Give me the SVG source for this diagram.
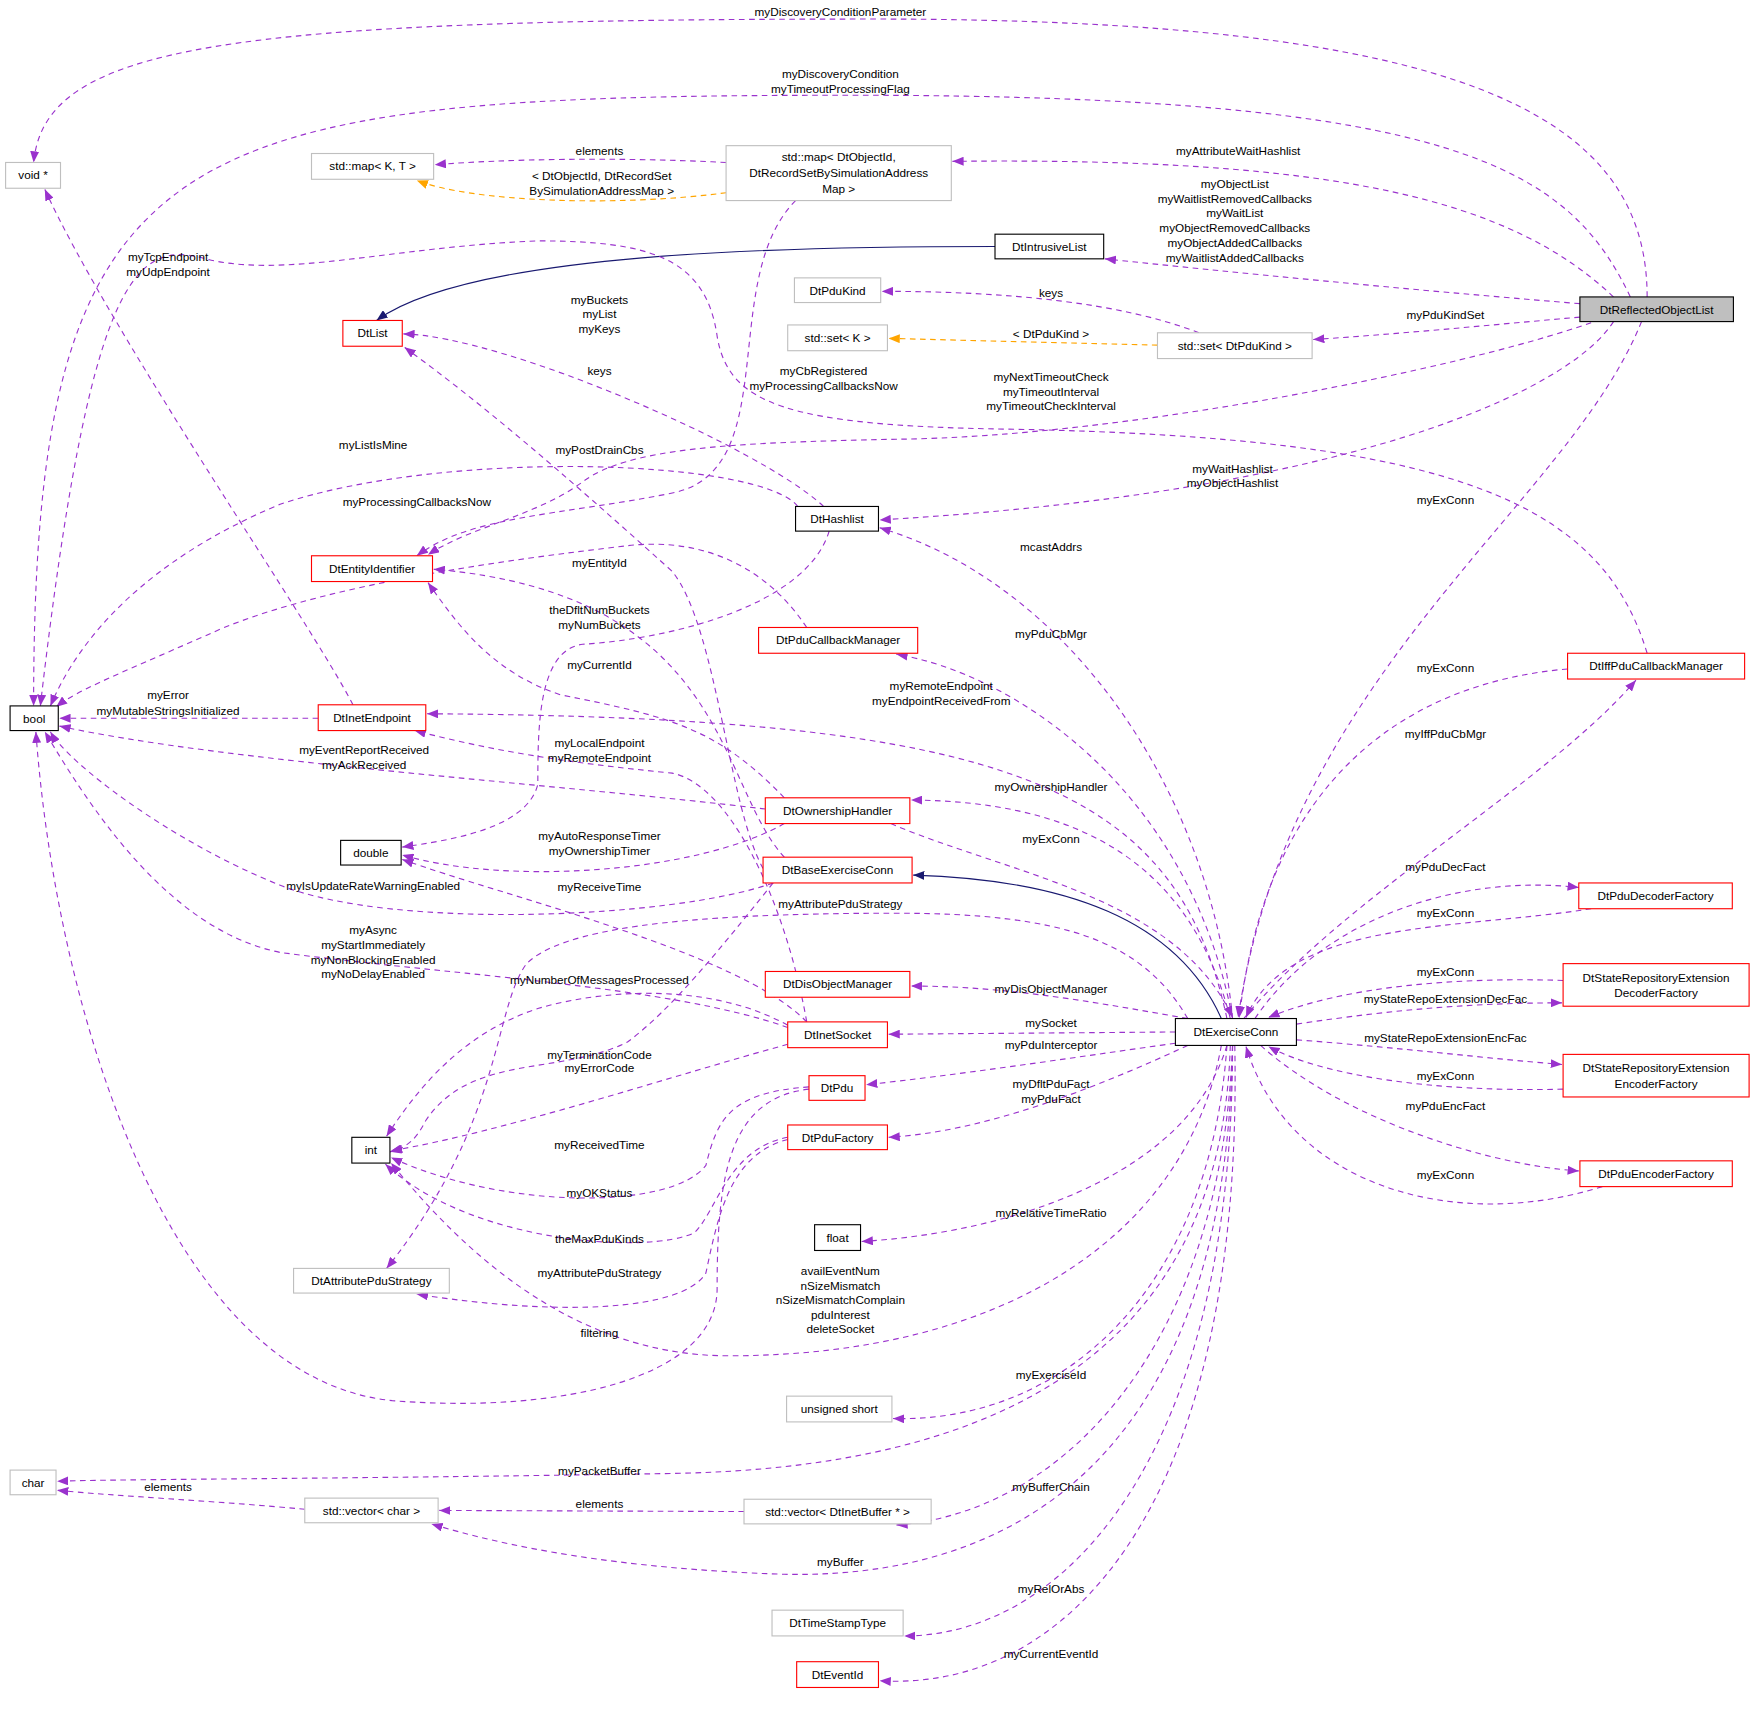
<svg xmlns="http://www.w3.org/2000/svg" width="1757" height="1709" viewBox="0 0 1757 1709">
<style>
text{font-family:"Liberation Sans",Arial,sans-serif;font-size:10.5px;fill:#000;text-anchor:middle}
.n rect{fill:#fff;stroke-width:1}
.g rect{stroke:#bfbfbf}.r rect{stroke:#ff0000}.b rect{stroke:#000}
.e path{fill:none;stroke:#9a32cd;stroke-dasharray:5,4;stroke-width:1}
.e path.o{stroke:#ffa500}
.e path.i{stroke:#191970;stroke-dasharray:none}
</style>
<defs>
<marker id="p" markerWidth="10" markerHeight="8" refX="10" refY="4" orient="auto" markerUnits="userSpaceOnUse"><path d="M0,0L10,4L0,8z" fill="#9a32cd"/></marker>
<marker id="o" markerWidth="10" markerHeight="8" refX="10" refY="4" orient="auto" markerUnits="userSpaceOnUse"><path d="M0,0L10,4L0,8z" fill="#ffa500"/></marker>
<marker id="i" markerWidth="10" markerHeight="8" refX="10" refY="4" orient="auto" markerUnits="userSpaceOnUse"><path d="M0,0L10,4L0,8z" fill="#191970"/></marker>
</defs>
<rect width="1757" height="1709" fill="#fff"/>
<g transform="scale(1.1205)">
<g id="connectors" class="e">
<path marker-end="url(#p)" d="M1470,265C1470,100 1300,17 780,17C200,17 40,40 30,145"/>
<path marker-end="url(#p)" d="M1455,265C1400,150 1300,85 760,85C150,85 30,120 30,630"/>
<path marker-end="url(#p)" d="M1440,265C1350,180 1200,140 850,144"/>
<path marker-end="url(#p)" d="M1410,271C1250,258 1100,243 986,231"/>
<path marker-end="url(#p)" d="M1410,283C1330,290 1250,298 1172,303"/>
<path marker-end="url(#p)" d="M1440,287C1400,350 1200,440 785,464"/>
<path marker-end="url(#p)" d="M1465,287C1400,450 1150,600 1105,908"/>
<path marker-end="url(#p)" d="M1420,288C1300,330 1000,390 800,392C650,395 560,400 520,430C480,460 420,470 382,495"/>
<path marker-end="url(#p)" d="M648,145C550,140 450,142 388,147"/>
<path class="o" marker-end="url(#o)" d="M648,172C550,185 420,180 372,161"/>
<path marker-end="url(#p)" d="M710,179C640,250 700,420 600,440C500,460 420,460 372,496"/>
<path class="i" marker-end="url(#i)" d="M888,220C700,220 420,225 336,286"/>
<path marker-end="url(#p)" d="M1070,297C1000,270 900,260 787,260"/>
<path class="o" marker-end="url(#o)" d="M1033,308L793,302"/>
<path marker-end="url(#p)" d="M712,452C680,410 400,400 250,450C130,500 70,570 45,630"/>
<path marker-end="url(#p)" d="M735,452C680,400 450,300 360,298"/>
<path marker-end="url(#p)" d="M740,474C720,540 600,570 520,575C480,580 480,650 480,700C470,740 400,750 359,756"/>
<path marker-end="url(#p)" d="M1470,583C1430,450 1300,390 900,383C700,380 650,360 640,300C630,230 580,215 480,215C350,220 250,250 180,230C120,215 80,250 36,630"/>
<path marker-end="url(#p)" d="M720,560C680,500 620,480 560,487C450,500 300,520 200,560C110,600 70,615 50,631"/>
<path marker-end="url(#p)" d="M315,629C280,560 100,300 40,169"/>
<path marker-end="url(#p)" d="M284,641L53,641"/>
<path marker-end="url(#p)" d="M683,722C500,700 200,680 53,648"/>
<path marker-end="url(#p)" d="M700,735C620,780 450,790 359,763"/>
<path marker-end="url(#p)" d="M700,712C640,650 600,640 500,620C440,600 410,560 382,520"/>
<path marker-end="url(#p)" d="M681,775C650,720 640,560 600,510C500,420 430,360 361,310"/>
<path marker-end="url(#p)" d="M700,765C640,700 650,530 387,508"/>
<path marker-end="url(#p)" d="M690,788C600,820 350,830 250,790C150,750 60,680 45,653"/>
<path marker-end="url(#p)" d="M720,912C660,850 450,800 359,767"/>
<path marker-end="url(#p)" d="M720,912C700,800 650,700 600,690C500,680 440,670 370,652"/>
<path marker-end="url(#p)" d="M703,917C600,880 400,870 250,850C150,830 80,720 40,653"/>
<path marker-end="url(#p)" d="M703,915C640,880 550,880 480,900C420,920 380,960 345,1014"/>
<path marker-end="url(#p)" d="M703,932C600,960 450,1010 349,1027"/>
<path marker-end="url(#p)" d="M690,788C640,850 600,900 560,930C500,960 420,940 380,1000C370,1020 360,1025 348,1028"/>
<path marker-end="url(#p)" d="M722,970C650,975 640,1000 630,1040C600,1080 450,1080 349,1033"/>
<path marker-end="url(#p)" d="M703,1015C650,1025 640,1080 620,1100C580,1120 420,1110 344,1039"/>
<path marker-end="url(#p)" d="M703,1017C650,1030 640,1090 630,1136C610,1170 500,1175 372,1155"/>
<path marker-end="url(#p)" d="M722,972C650,980 640,1050 640,1150C640,1230 500,1262 350,1250C150,1230 50,900 32,653"/>
<path marker-end="url(#p)" d="M1060,909C1020,840 950,815 800,815C600,815 500,830 470,860C440,900 450,1000 345,1132"/>
<path marker-end="url(#p)" d="M1100,909C1080,700 950,520 785,471"/>
<path marker-end="url(#p)" d="M1100,909C1060,700 900,600 800,584"/>
<path marker-end="url(#p)" d="M1095,909C1050,700 900,640 381,637"/>
<path marker-end="url(#p)" d="M1110,909C1200,800 1380,700 1460,607"/>
<path marker-end="url(#p)" d="M1399,597C1250,610 1130,700 1106,908"/>
<path marker-end="url(#p)" d="M1098,909C1060,760 950,715 813,714"/>
<path marker-end="url(#p)" d="M795,735C900,780 1050,800 1100,908"/>
<path class="i" marker-end="url(#i)" d="M1090,909C1050,820 950,785 815,781"/>
<path marker-end="url(#p)" d="M1120,909C1180,820 1300,780 1409,792"/>
<path marker-end="url(#p)" d="M1420,811C1300,830 1150,820 1112,908"/>
<path marker-end="url(#p)" d="M1395,875C1300,872 1200,880 1132,908"/>
<path marker-end="url(#p)" d="M1157,914C1250,900 1320,895 1394,895"/>
<path marker-end="url(#p)" d="M1157,928C1250,935 1330,945 1394,950"/>
<path marker-end="url(#p)" d="M1395,972C1280,975 1180,960 1132,934"/>
<path marker-end="url(#p)" d="M1125,933C1200,1000 1330,1040 1409,1045"/>
<path marker-end="url(#p)" d="M1430,1059C1300,1100 1150,1060 1112,934"/>
<path marker-end="url(#p)" d="M1060,909C980,895 900,880 813,880"/>
<path marker-end="url(#p)" d="M1049,921L793,923"/>
<path marker-end="url(#p)" d="M1049,931C950,945 850,960 773,968"/>
<path marker-end="url(#p)" d="M1060,933C980,970 880,1010 793,1015"/>
<path marker-end="url(#p)" d="M1095,933C1060,1050 900,1100 769,1108"/>
<path marker-end="url(#p)" d="M1090,933C1060,1100 900,1210 650,1210C500,1210 400,1100 349,1038"/>
<path marker-end="url(#p)" d="M1095,933C1080,1150 950,1270 797,1266"/>
<path marker-end="url(#p)" d="M1098,933C1090,1200 900,1310 600,1315C300,1320 100,1320 51,1322"/>
<path marker-end="url(#p)" d="M1100,933C1090,1200 950,1350 800,1361"/>
<path marker-end="url(#p)" d="M1100,933C1095,1250 950,1410 700,1405C550,1400 450,1380 385,1360"/>
<path marker-end="url(#p)" d="M1100,933C1100,1300 950,1460 807,1460"/>
<path marker-end="url(#p)" d="M1102,933C1110,1350 950,1510 785,1500"/>
<path marker-end="url(#p)" d="M664,1349L392,1348"/>
<path marker-end="url(#p)" d="M272,1347C200,1340 100,1335 51,1330"/>
</g>
<g id="labels">
<text x="750" y="14">myDiscoveryConditionParameter</text>
<text x="750" y="70">myDiscoveryCondition</text><text x="750" y="83">myTimeoutProcessingFlag</text>
<text x="535" y="138">elements</text>
<text x="1105" y="138">myAttributeWaitHashlist</text>
<text x="537" y="161">&lt; DtObjectId, DtRecordSet</text><text x="537" y="174">BySimulationAddressMap &gt;</text>
<text x="1102" y="168">myObjectList</text><text x="1102" y="181">myWaitlistRemovedCallbacks</text><text x="1102" y="194">myWaitList</text><text x="1102" y="207">myObjectRemovedCallbacks</text><text x="1102" y="220">myObjectAddedCallbacks</text><text x="1102" y="234">myWaitlistAddedCallbacks</text>
<text x="150" y="233">myTcpEndpoint</text><text x="150" y="246">myUdpEndpoint</text>
<text x="938" y="265">keys</text>
<text x="535" y="271">myBuckets</text><text x="535" y="284">myList</text><text x="535" y="297">myKeys</text>
<text x="1290" y="285">myPduKindSet</text>
<text x="938" y="302">&lt; DtPduKind &gt;</text>
<text x="535" y="335">keys</text>
<text x="735" y="335">myCbRegistered</text><text x="735" y="348">myProcessingCallbacksNow</text>
<text x="938" y="340">myNextTimeoutCheck</text><text x="938" y="353">myTimeoutInterval</text><text x="938" y="366">myTimeoutCheckInterval</text>
<text x="333" y="401">myListIsMine</text>
<text x="535" y="405">myPostDrainCbs</text>
<text x="1100" y="422">myWaitHashlist</text><text x="1100" y="435">myObjectHashlist</text>
<text x="372" y="452">myProcessingCallbacksNow</text>
<text x="1290" y="450">myExConn</text>
<text x="938" y="492">mcastAddrs</text>
<text x="535" y="506">myEntityId</text>
<text x="535" y="548">theDfltNumBuckets</text><text x="535" y="561">myNumBuckets</text>
<text x="938" y="569">myPduCbMgr</text>
<text x="535" y="597">myCurrentId</text>
<text x="1290" y="600">myExConn</text>
<text x="840" y="616">myRemoteEndpoint</text><text x="840" y="629">myEndpointReceivedFrom</text>
<text x="150" y="624">myError</text><text x="150" y="638">myMutableStringsInitialized</text>
<text x="1290" y="659">myIffPduCbMgr</text>
<text x="535" y="667">myLocalEndpoint</text><text x="535" y="680">myRemoteEndpoint</text>
<text x="325" y="673">myEventReportReceived</text><text x="325" y="686">myAckReceived</text>
<text x="938" y="706">myOwnershipHandler</text>
<text x="535" y="750">myAutoResponseTimer</text><text x="535" y="763">myOwnershipTimer</text>
<text x="938" y="752">myExConn</text>
<text x="1290" y="777">myPduDecFact</text>
<text x="535" y="795">myReceiveTime</text>
<text x="333" y="794">myIsUpdateRateWarningEnabled</text>
<text x="750" y="810">myAttributePduStrategy</text>
<text x="1290" y="818">myExConn</text>
<text x="333" y="834">myAsync</text><text x="333" y="847">myStartImmediately</text><text x="333" y="860">myNonBlockingEnabled</text><text x="333" y="873">myNoDelayEnabled</text>
<text x="1290" y="871">myExConn</text>
<text x="535" y="878">myNumberOfMessagesProcessed</text>
<text x="938" y="886">myDisObjectManager</text>
<text x="1290" y="895">myStateRepoExtensionDecFac</text>
<text x="938" y="917">mySocket</text>
<text x="938" y="936">myPduInterceptor</text>
<text x="1290" y="930">myStateRepoExtensionEncFac</text>
<text x="535" y="945">myTerminationCode</text><text x="535" y="957">myErrorCode</text>
<text x="1290" y="964">myExConn</text>
<text x="938" y="971">myDfltPduFact</text><text x="938" y="984">myPduFact</text>
<text x="1290" y="991">myPduEncFact</text>
<text x="535" y="1025">myReceivedTime</text>
<text x="1290" y="1052">myExConn</text>
<text x="535" y="1068">myOKStatus</text>
<text x="938" y="1086">myRelativeTimeRatio</text>
<text x="535" y="1109">theMaxPduKinds</text>
<text x="750" y="1138">availEventNum</text><text x="750" y="1151">nSizeMismatch</text><text x="750" y="1164">nSizeMismatchComplain</text><text x="750" y="1177">pduInterest</text><text x="750" y="1190">deleteSocket</text>
<text x="535" y="1140">myAttributePduStrategy</text>
<text x="535" y="1193">filtering</text>
<text x="938" y="1231">myExerciseId</text>
<text x="535" y="1316">myPacketBuffer</text>
<text x="150" y="1331">elements</text>
<text x="938" y="1331">myBufferChain</text>
<text x="535" y="1346">elements</text>
<text x="750" y="1398">myBuffer</text>
<text x="938" y="1422">myRelOrAbs</text>
<text x="938" y="1480">myCurrentEventId</text>
</g>
<g id="n_void" class="n g"><rect x="5" y="145" width="49" height="23"/><text x="29.5" y="160">void *</text></g>
<g id="n_bool" class="n b"><rect x="9" y="630" width="43" height="22"/><text x="30.5" y="645">bool</text></g>
<g id="n_double" class="n b"><rect x="304" y="750" width="54" height="22"/><text x="331" y="765">double</text></g>
<g id="n_int" class="n b"><rect x="314" y="1015" width="34" height="23"/><text x="331" y="1030">int</text></g>
<g id="n_char" class="n g"><rect x="9" y="1312" width="41" height="22"/><text x="29.5" y="1327">char</text></g>
<g id="n_mapKT" class="n g"><rect x="278" y="137" width="109" height="23"/><text x="332.5" y="152">std::map&lt; K, T &gt;</text></g>
<g id="n_mapObj" class="n g"><rect x="648" y="130" width="201" height="49"/><text x="748.5" y="144">std::map&lt; DtObjectId,</text><text x="748.5" y="158">DtRecordSetBySimulationAddress</text><text x="748.5" y="172">Map &gt;</text></g>
<g id="n_intrusive" class="n b"><rect x="888" y="209" width="97" height="22"/><text x="936.5" y="224">DtIntrusiveList</text></g>
<g id="n_list" class="n r"><rect x="306" y="286" width="53" height="23"/><text x="332.5" y="301">DtList</text></g>
<g id="n_pdukind" class="n g"><rect x="709" y="248" width="77" height="22"/><text x="747.5" y="263">DtPduKind</text></g>
<g id="n_setK" class="n g"><rect x="703" y="290" width="89" height="23"/><text x="747.5" y="305">std::set&lt; K &gt;</text></g>
<g id="n_setPdu" class="n g"><rect x="1033" y="297" width="138" height="23"/><text x="1102" y="312">std::set&lt; DtPduKind &gt;</text></g>
<g id="n_reflected" class="n"><rect x="1410" y="265" width="137" height="22" style="fill:#bfbfbf;stroke:#000"/><text x="1478.5" y="280">DtReflectedObjectList</text></g>
<g id="n_hashlist" class="n b"><rect x="710" y="452" width="74" height="22"/><text x="747" y="467">DtHashlist</text></g>
<g id="n_entity" class="n r"><rect x="278" y="496" width="108" height="23"/><text x="332" y="511">DtEntityIdentifier</text></g>
<g id="n_pducb" class="n r"><rect x="677" y="560" width="142" height="23"/><text x="748" y="575">DtPduCallbackManager</text></g>
<g id="n_inetep" class="n r"><rect x="284" y="629" width="96" height="23"/><text x="332" y="644">DtInetEndpoint</text></g>
<g id="n_iffcb" class="n r"><rect x="1399" y="583" width="158" height="23"/><text x="1478" y="598">DtIffPduCallbackManager</text></g>
<g id="n_own" class="n r"><rect x="683" y="712" width="129" height="23"/><text x="747.5" y="727">DtOwnershipHandler</text></g>
<g id="n_baseex" class="n r"><rect x="681" y="765" width="133" height="23"/><text x="747.5" y="780">DtBaseExerciseConn</text></g>
<g id="n_decf" class="n r"><rect x="1409" y="788" width="137" height="23"/><text x="1477.5" y="803">DtPduDecoderFactory</text></g>
<g id="n_dis" class="n r"><rect x="683" y="867" width="129" height="23"/><text x="747.5" y="882">DtDisObjectManager</text></g>
<g id="n_srdec" class="n r"><rect x="1395" y="860" width="166" height="38"/><text x="1478" y="876">DtStateRepositoryExtension</text><text x="1478" y="890">DecoderFactory</text></g>
<g id="n_sock" class="n r"><rect x="703" y="912" width="89" height="23"/><text x="747.5" y="927">DtInetSocket</text></g>
<g id="n_exconn" class="n b"><rect x="1049" y="909" width="108" height="24"/><text x="1103" y="925">DtExerciseConn</text></g>
<g id="n_srenc" class="n r"><rect x="1395" y="941" width="166" height="38"/><text x="1478" y="957">DtStateRepositoryExtension</text><text x="1478" y="971">EncoderFactory</text></g>
<g id="n_pdu" class="n r"><rect x="722" y="960" width="50" height="22"/><text x="747" y="975">DtPdu</text></g>
<g id="n_pdufac" class="n r"><rect x="703" y="1004" width="89" height="22"/><text x="747.5" y="1019">DtPduFactory</text></g>
<g id="n_encf" class="n r"><rect x="1410" y="1036" width="136" height="23"/><text x="1478" y="1051">DtPduEncoderFactory</text></g>
<g id="n_float" class="n b"><rect x="727" y="1093" width="41" height="23"/><text x="747.5" y="1108">float</text></g>
<g id="n_attr" class="n g"><rect x="262" y="1132" width="139" height="22"/><text x="331.5" y="1147">DtAttributePduStrategy</text></g>
<g id="n_ushort" class="n g"><rect x="702" y="1246" width="94" height="23"/><text x="749" y="1261">unsigned short</text></g>
<g id="n_vchar" class="n g"><rect x="272" y="1337" width="119" height="22"/><text x="331.5" y="1352">std::vector&lt; char &gt;</text></g>
<g id="n_vbuf" class="n g"><rect x="664" y="1338" width="167" height="22"/><text x="747.5" y="1353">std::vector&lt; DtInetBuffer * &gt;</text></g>
<g id="n_ts" class="n g"><rect x="689" y="1437" width="117" height="23"/><text x="747.5" y="1452">DtTimeStampType</text></g>
<g id="n_evt" class="n r"><rect x="711" y="1483" width="73" height="23"/><text x="747.5" y="1498">DtEventId</text></g>
</g>
</svg>
